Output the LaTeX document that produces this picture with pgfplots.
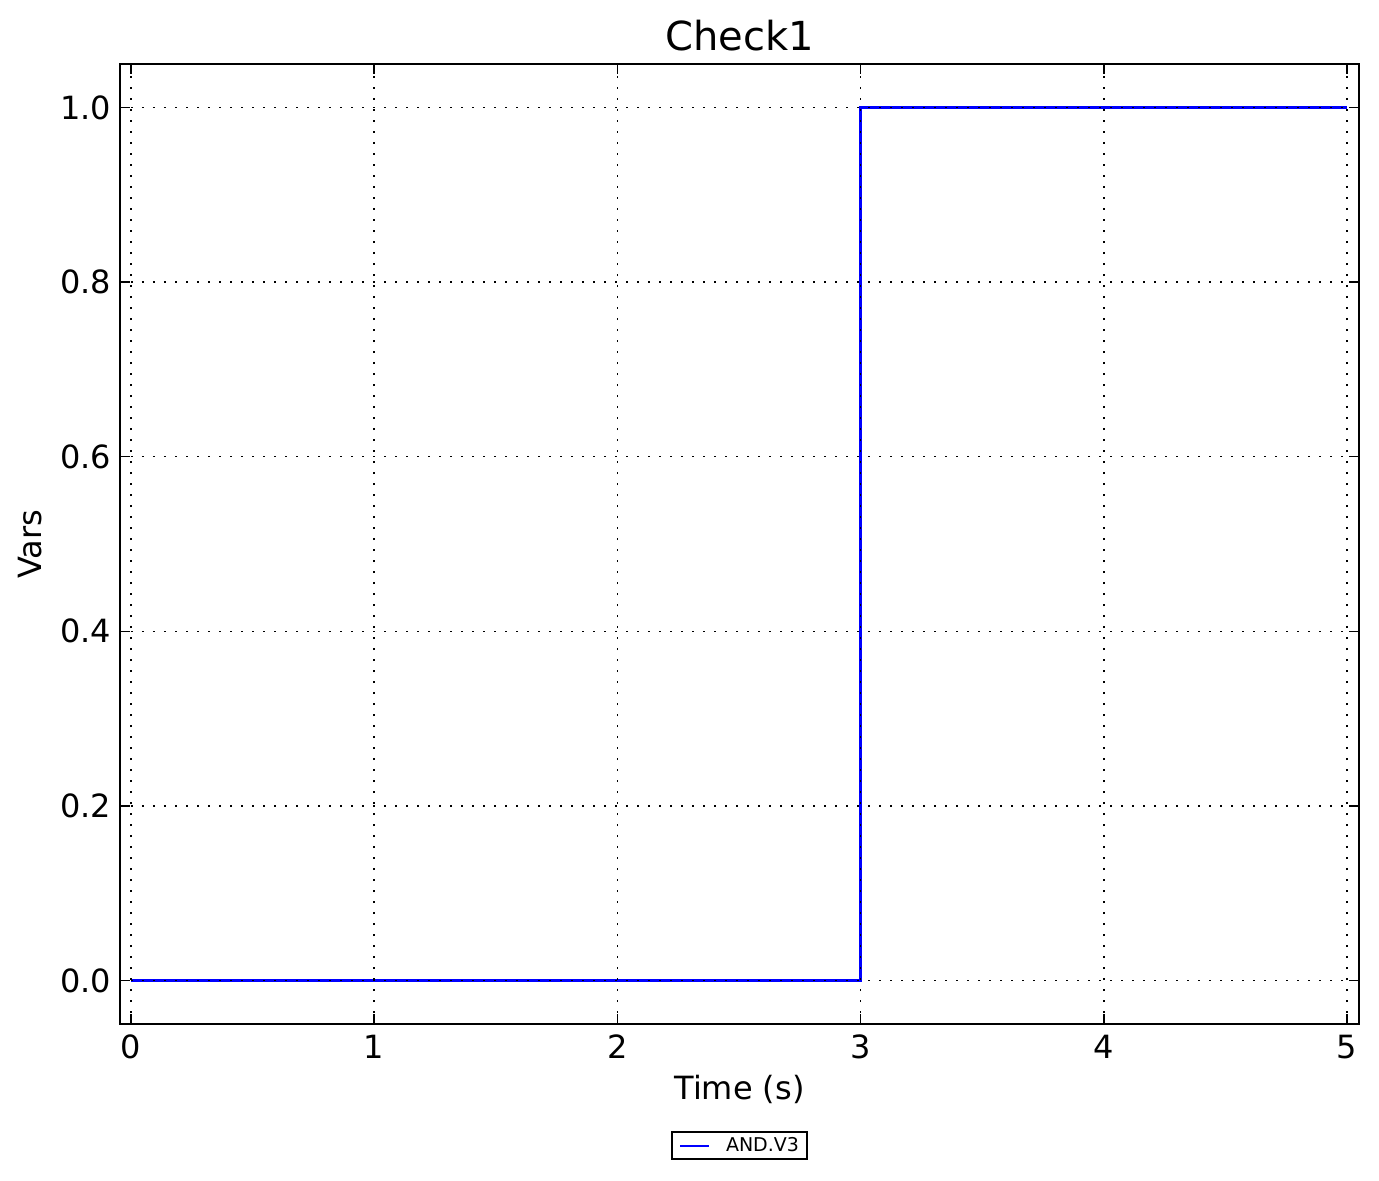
\documentclass[border=0pt]{standalone}
\usepackage{pgfplots}
\pgfplotsset{compat=1.18}
\usepackage{fontspec}
\setmainfont{DejaVu Sans}
\begin{document}
\begin{tikzpicture}
\begin{axis}[
  name=ax, at={(0,0)}, anchor=south west,
  scale only axis,
  width=619.5pt, height=480pt,
  xmin=-0.045, xmax=5.049,
  ymin=-0.05, ymax=1.05,
  xtick={0,1,2,3,4,5},
  ytick={0,0.2,0.4,0.6,0.8,1.0},
  yticklabel style={xshift=-1pt, /pgf/number format/.cd, fixed, fixed zerofill, precision=1},
  /pgf/number format/assume math mode=true,
  tick label style={font=\fontsize{16}{19}\selectfont},
  xticklabel style={yshift=-2pt},
  tick align=inside,
  major tick length=5pt,
  tick style={black, line width=0.7pt},
  axis line style={line width=1.2pt},
  axis on top,
  grid=major,
  major grid style={black, line width=0.7pt, dash pattern=on 1pt off 4.5pt},
  title={Check1},
  title style={font=\fontsize{20}{24}\selectfont, yshift=-3pt},
  xlabel={Time (s)},
  ylabel={Vars},
  label style={font=\fontsize{16}{19}\selectfont},
  xlabel style={yshift=-1pt},
  ylabel style={yshift=2pt},
  legend style={at={(0.5,-0.127)}, anchor=center, draw=black, line width=1pt,
    font=\fontsize{9.5}{11}\selectfont, inner xsep=2pt, inner ysep=0.5pt},
  legend cell align=left,
  legend image code/.code={\draw[#1, line width=1pt] (2pt,0pt) -- (16.5pt,0pt);
    \path[draw=none] (0pt,0pt) -- (23pt,0pt);},
]
\addplot[blue, line width=1.4pt] coordinates {(0,0) (3,0) (3,1) (5,1)};
\addlegendentry{AND.V3}
\end{axis}
\pgfresetboundingbox
\path[use as bounding box] (-60pt,-78pt) rectangle (629.5pt,512pt);
\end{tikzpicture}
\end{document}
